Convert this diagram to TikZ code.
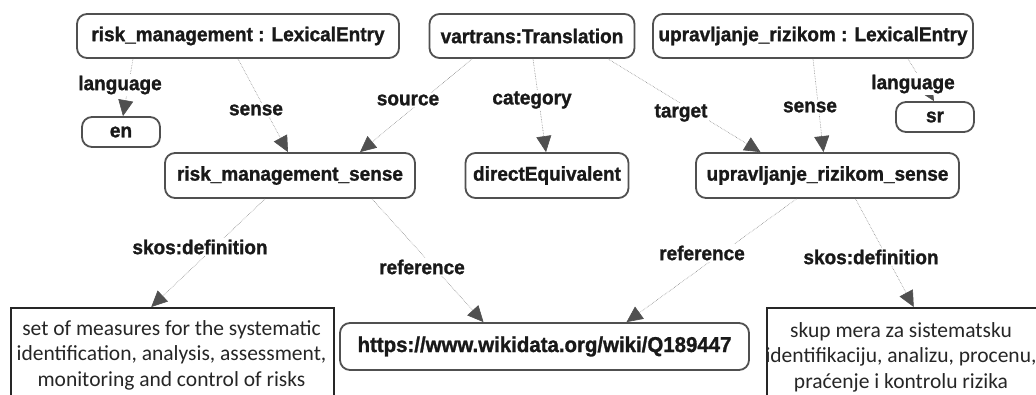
\documentclass[tikz,border=0pt]{standalone}
\usepackage{fontspec}
\setmainfont{Liberation Sans}
\newfontfamily\lblfont{Liberation Sans}[FakeStretch=0.95, BoldFeatures={FakeBold=1.2}]
\newfontfamily\deffont{Carlito}
\usetikzlibrary{arrows.meta}
\definecolor{boxgray}{HTML}{505050}
\definecolor{arrgray}{HTML}{505050}
\definecolor{linegray}{HTML}{8C8C8C}
\tikzset{
  rbox/.style={draw=boxgray, line width=1.8pt, rounded corners=10pt, fill=white,
    font=\lblfont\bfseries\fontsize{20}{24}\selectfont, text=black!90, inner sep=0pt},
  defbox/.style={draw=black!85, line width=1.5pt, fill=white, inner sep=0pt},
  deftext/.style={font=\deffont\fontsize{21.5}{25.5}\selectfont, text=black!85, align=center, inner sep=0pt},
  elabel/.style={fill=white, inner sep=1.5pt, font=\lblfont\bfseries\fontsize{20}{24}\selectfont, text=black!90},
  conn/.style={draw=linegray, line width=0.6pt, densely dotted,
    -{Triangle[length=16pt,width=15pt,color=arrgray,fill=arrgray]}},
}
\begin{document}
\begin{tikzpicture}[x=1pt,y=-1pt]
\useasboundingbox (0,0) rectangle (1036,394);
\clip (0,0) rectangle (1036,394);
% nodes
\node[rbox, minimum width=322, minimum height=44] (rme) at (238,36) {risk\_management : LexicalEntry};
\node[rbox, minimum width=205, minimum height=44] (vt) at (532,36) {vartrans:Translation};
\node[rbox, minimum width=320, minimum height=44] (ure) at (813,36) {upravljanje\_rizikom : LexicalEntry};
\node[rbox, minimum width=78, minimum height=30] (en) at (121,132) {en};
\node[rbox, minimum width=78, minimum height=30] (sr) at (935,117) {sr};
\node[rbox, minimum width=250, minimum height=45] (rms) at (290,175.5) {risk\_management\_sense};
\node[rbox, minimum width=163, minimum height=45] (de) at (547,175.5) {directEquivalent};
\node[rbox, minimum width=263, minimum height=45] (urs) at (827.5,175.5) {upravljanje\_rizikom\_sense};
\node[rbox, minimum width=409, minimum height=47, font=\lblfont\bfseries\fontsize{21.5}{24}\selectfont] (url) at (544.5,346.5) {https://www.wikidata.org/wiki/Q189447};
\node[defbox, minimum width=323, minimum height=110, anchor=north west] (defL) at (10,307) {};
\node[deftext] (defLt) at (171.5,355) {set of measures for the systematic\\identification, analysis, assessment,\\monitoring and control of risks};
\node[defbox, minimum width=284, minimum height=110, anchor=north west] (defR) at (766,307) {};
\node[deftext] (defRt) at (901,357) {skup mera za sistematsku\\identifikaciju, analizu, procenu,\\praćenje i kontrolu rizika};
% connectors
\draw[conn] ([xshift=-105pt]rme.south) -- ([xshift=2pt]en.north);
\draw[conn] (rme.south) -- ([xshift=-2pt]rms.north);
\draw[conn] ([xshift=-60pt]vt.south) -- ([xshift=70pt]rms.north);
\draw[conn] ([xshift=1pt]vt.south) -- ([xshift=-1pt]de.north);
\draw[conn] ([xshift=76pt]vt.south) -- ([xshift=-67pt]urs.north);
\draw[conn] (ure.south) -- ([xshift=-4pt]urs.north);
\draw[conn] ([xshift=95pt]ure.south) -- ([xshift=-1pt]sr.north);
\draw[conn] ([xshift=-25pt]rms.south) -- ([xshift=-21pt]defL.north);
\draw[conn] ([xshift=82pt]rms.south) -- ([xshift=-61pt]url.north);
\draw[conn] ([xshift=-31pt]urs.south) -- ([xshift=82pt]url.north);
\draw[conn] ([xshift=28pt]urs.south) -- ([xshift=5pt]defR.north);
% labels
\node[elabel] (l1) at (120,85) {language};
\node[elabel] (l2) at (256,110) {sense};
\node[elabel] (l3) at (408,100) {source};
\node[elabel] (l4) at (532,100) {category};
\node[elabel] (l5) at (681,113) {target};
\node[elabel] (l6) at (810,107) {sense};
\node[elabel] (l7) at (913,84) {language};
\node[elabel] (l8) at (200,247) {skos:definition};
\node[elabel] (l9) at (422,267) {reference};
\node[elabel] (l10) at (702,253) {reference};
\node[elabel] (l11) at (871,257) {skos:definition};
\end{tikzpicture}
\end{document}
